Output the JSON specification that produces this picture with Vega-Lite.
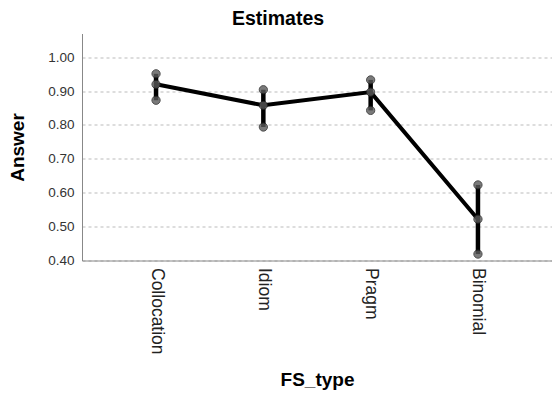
{
  "$schema": "https://vega.github.io/schema/vega-lite/v6.json",
  "autosize": "none",
  "width": 470,
  "height": 227,
  "padding": {"left": 82, "top": 33.5, "right": 0, "bottom": 140.5},
  "background": "white",
  "config": {
    "view": {"stroke": null},
    "font": "Liberation Sans",
    "axisY": {
      "title": "Answer",
      "titleFont": "Liberation Sans",
      "titleFontSize": 19,
      "titleFontWeight": "bold",
      "titleColor": "#000000",
      "titlePadding": 20,
      "labelFontSize": 13.5,
      "labelColor": "#333333",
      "labelPadding": 8,
      "labelOverlap": false,
      "ticks": false,
      "domainColor": "#888888",
      "domainWidth": 1,
      "grid": true,
      "gridColor": "#bbbbbb",
      "gridDash": [3, 3],
      "gridWidth": 1
    }
  },
  "title": {
    "text": "Estimates",
    "font": "Liberation Sans",
    "fontSize": 19.5,
    "fontWeight": "bold",
    "color": "#000000",
    "anchor": "middle",
    "frame": "group",
    "dx": -39,
    "offset": 4
  },
  "data": {
    "values": [
      {"FS_type": "Collocation", "mean": 0.920, "lo": 0.873, "hi": 0.951},
      {"FS_type": "Idiom", "mean": 0.858, "lo": 0.794, "hi": 0.904},
      {"FS_type": "Pragm", "mean": 0.897, "lo": 0.843, "hi": 0.933},
      {"FS_type": "Binomial", "mean": 0.522, "lo": 0.419, "hi": 0.623}
    ]
  },
  "encoding": {
    "x": {
      "field": "FS_type",
      "type": "nominal",
      "sort": null,
      "scale": {"type": "point", "padding": 0.69},
      "axis": {
        "title": "FS_type",
        "titleFont": "Liberation Sans",
        "titleFontSize": 19,
        "titleFontWeight": "bold",
        "titleColor": "#000000",
        "titlePadding": 16,
        "labelAngle": 90,
        "labelAlign": "left",
        "labelBaseline": "middle",
        "labelFontSize": 17.5,
        "labelColor": "#222222",
        "labelPadding": 7,
        "ticks": false,
        "domainColor": "#888888",
        "domainWidth": 1,
        "grid": false
      }
    }
  },
  "layer": [
    {
      "mark": {"type": "line", "color": "#000000", "strokeWidth": 4},
      "encoding": {
        "y": {
          "field": "mean",
          "type": "quantitative",
          "scale": {"domain": [0.4, 1.07], "nice": false, "zero": false},
          "axis": {"title": "Answer", "values": [0.4, 0.5, 0.6, 0.7, 0.8, 0.9, 1.0], "format": ".2f"}
        }
      }
    },
    {
      "mark": {"type": "rule", "color": "#000000", "strokeWidth": 4.5},
      "encoding": {
        "y": {
          "field": "lo",
          "type": "quantitative",
          "scale": {"domain": [0.4, 1.07], "nice": false, "zero": false},
          "axis": {"title": "Answer", "values": [0.4, 0.5, 0.6, 0.7, 0.8, 0.9, 1.0], "format": ".2f"}
        },
        "y2": {"field": "hi"}
      }
    },
    {
      "transform": [{"fold": ["lo", "mean", "hi"], "as": ["stat", "val"]}],
      "mark": {"type": "point", "filled": true, "size": 68, "color": "#5a5a5a", "opacity": 0.8, "stroke": "#222222", "strokeWidth": 1},
      "encoding": {
        "y": {
          "field": "val",
          "type": "quantitative",
          "scale": {"domain": [0.4, 1.07], "nice": false, "zero": false},
          "axis": {"title": "Answer", "values": [0.4, 0.5, 0.6, 0.7, 0.8, 0.9, 1.0], "format": ".2f"}
        }
      }
    }
  ]
}
